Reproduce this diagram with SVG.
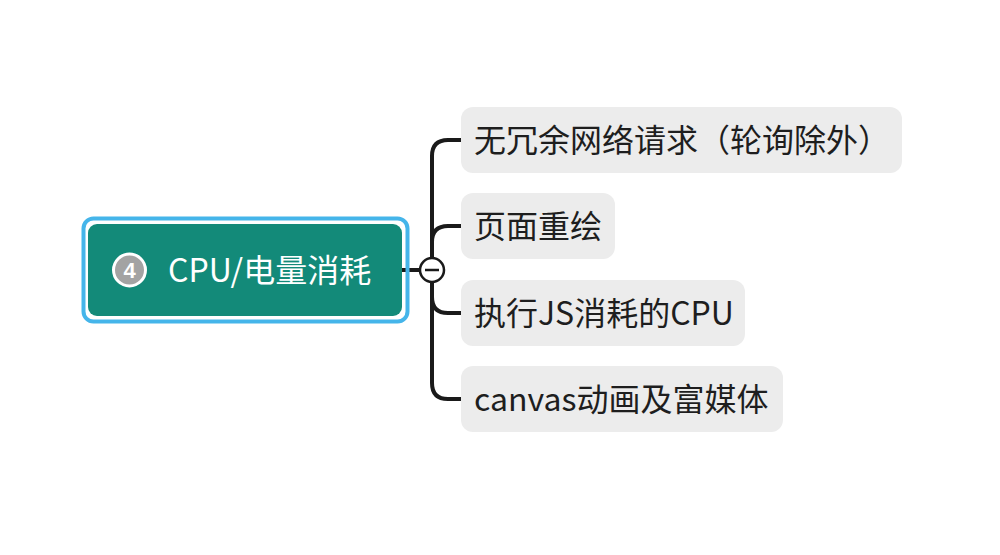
<svg xmlns="http://www.w3.org/2000/svg" width="1000" height="555" viewBox="0 0 1000 555">
<style>
.child rect{fill:#ececec}
.ct{font-family:"Noto Sans CJK SC","Noto Sans",sans-serif;font-size:32px;fill:#1e1e1e}
.rt{font-family:"Noto Sans CJK SC","Noto Sans",sans-serif;font-size:32px;fill:#ffffff}
.conn path{fill:none;stroke:#1a1a1a;stroke-width:4;stroke-linecap:round}
</style>
<rect width="1000" height="555" fill="#ffffff"/>
<g id="connectors" class="conn">
<path d="M402 270 H420"/>
<path d="M432 258 V156 Q432 140 448 140 H462"/>
<path d="M432 258 V242 Q432 226 448 226 H462"/>
<path d="M432 282 V297 Q432 313 448 313 H462"/>
<path d="M432 282 V383 Q432 399 448 399 H462"/>
<circle cx="432" cy="270" r="12" fill="#ffffff" stroke="#1a1a1a" stroke-width="2.5"/>
<line x1="425" y1="270" x2="439" y2="270" stroke="#1a1a1a" stroke-width="2.5"/>
</g>
<g id="root">
<rect x="83.5" y="218.5" width="324" height="103" rx="10" fill="none" stroke="#45b5ea" stroke-width="4"/>
<rect x="88" y="224" width="314" height="92" rx="9" fill="#138a79"/>
<circle cx="129.5" cy="270" r="16" fill="#a3a3a3" stroke="#ffffff" stroke-width="3"/>
<text x="129.5" y="278" text-anchor="middle" font-family="Liberation Sans, sans-serif" font-weight="bold" font-size="22" fill="#ffffff">4</text>
<text class="rt" x="168" y="282">CPU/电量消耗</text>
</g>
<g id="child1" class="child">
<rect x="461" y="107" width="441" height="66" rx="12"/>
<text class="ct" x="474" y="152">无冗余网络请求（轮询除外）</text>
</g>
<g id="child2" class="child">
<rect x="461" y="193" width="154" height="66" rx="12"/>
<text class="ct" x="474" y="238">页面重绘</text>
</g>
<g id="child3" class="child">
<rect x="461" y="280" width="284" height="66" rx="12"/>
<text class="ct" x="474" y="325">执行JS消耗的CPU</text>
</g>
<g id="child4" class="child">
<rect x="461" y="366" width="322" height="66" rx="12"/>
<text class="ct" x="474" y="411">canvas动画及富媒体</text>
</g>
</svg>
